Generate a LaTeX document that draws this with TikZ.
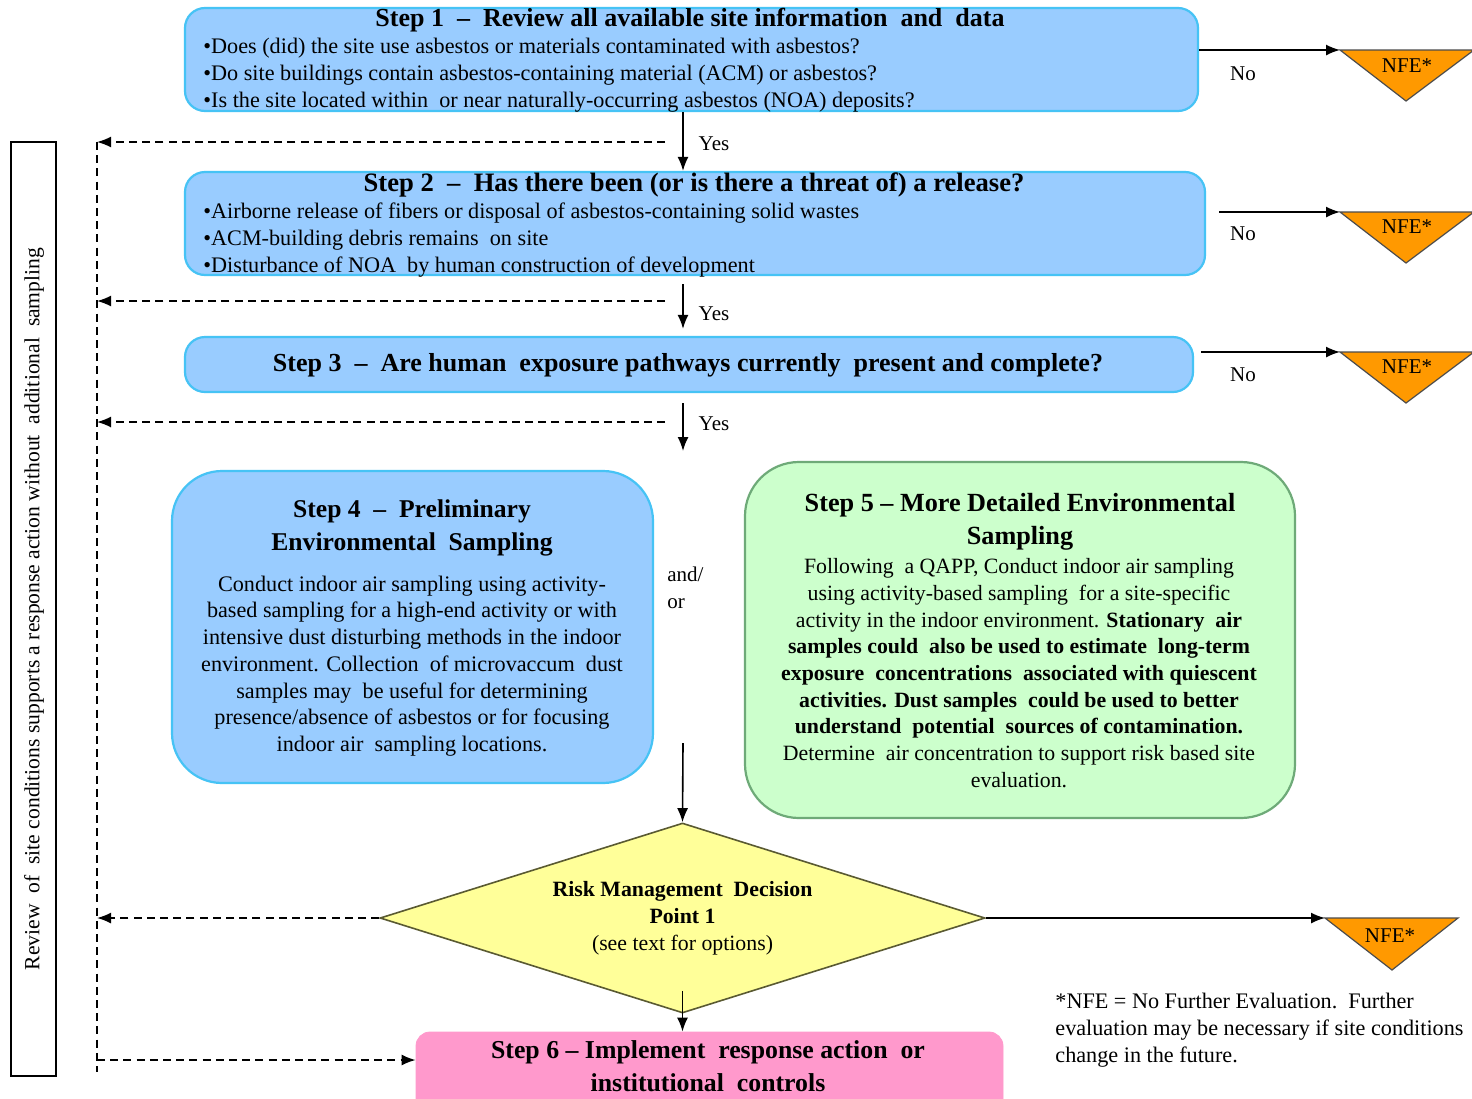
\documentclass[tikz,border=0pt]{standalone}
\usepackage{fontspec}
\setmainfont{Liberation Serif}
\usetikzlibrary{arrows.meta,shapes.geometric}
\definecolor{bluefill}{RGB}{153,204,255}
\definecolor{blueline}{RGB}{70,195,245}
\definecolor{greenfill}{RGB}{204,255,204}
\definecolor{greenline}{RGB}{110,170,120}
\definecolor{pinkfill}{RGB}{255,153,204}
\definecolor{yellowfill}{RGB}{255,255,153}
\definecolor{yellowline}{RGB}{90,90,50}
\definecolor{orangefill}{RGB}{255,153,0}
\begin{document}
\begin{tikzpicture}[x=0.5pt,y=-0.5pt,
  stepbox/.style={draw=blueline, fill=bluefill, line width=1.1pt, rounded corners=10pt, inner sep=0pt},
  title/.style={font=\fontsize{13}{16.8}\selectfont\bfseries, inner sep=0pt, align=center},
  body/.style={font=\fontsize{11.1}{13.5}\selectfont, inner sep=0pt},
  lbl/.style={font=\fontsize{10.5}{12}\selectfont, inner sep=0pt},
  arr/.style={-{Latex[length=7pt,width=5.5pt]}, line width=0.8pt},
  dashln/.style={dash pattern=on 4pt off 2.6pt, line width=0.8pt},
  dasharr/.style={dashln, -{Latex[length=7pt,width=5.5pt]}},
  nfe/.style={draw=black!70, fill=orangefill, line width=0.6pt, line join=miter}
]
\useasboundingbox (0,0) rectangle (1472,1098);
\clip (0,0) rectangle (1472,1098);
\fill[white] (0,0) rectangle (1472,1098);

% helper coordinates
\coordinate (col) at (683,0);

% ---------- Step 1
\node[stepbox, minimum width=506.5pt, minimum height=51.5pt] (s1) at (691.5,59.5) {};
\node[title] (s1t) at (690,20) {Step 1\ \ –\ \ Review all available site information\ \ and\ \ data};
\node[body, anchor=west, align=left] (s1b) at (203,75) {•Does (did) the site use asbestos or materials contaminated with asbestos?\\
•Do site buildings contain asbestos-containing material (ACM) or asbestos?\\
•Is the site located within\ \ or near naturally-occurring asbestos (NOA) deposits?};

% ---------- Step 2
\node[stepbox, minimum width=510pt, minimum height=51.5pt] (s2) at (695,223.5) {};
\node[title, font=\fontsize{13.3}{16.8}\selectfont\bfseries] (s2t) at (694,185) {Step 2\ \ –\ \ Has there been (or is there a threat\ of) a release?};
\node[body, anchor=west, align=left] (s2b) at (203,240) {•Airborne release of fibers or disposal of asbestos-containing solid wastes\\
•ACM-building debris remains\ \ on site\\
•Disturbance of NOA\ \ by human construction of development};

% ---------- Step 3
\node[stepbox, minimum width=504pt, minimum height=27.5pt] (s3) at (689,364.5) {};
\node[title] (s3t) at (688,365) {Step 3\ \ –\ \ Are human\ \ exposure pathways currently\ \ present and complete?};

% ---------- Step 4
\node[stepbox, rounded corners=25pt, minimum width=240.5pt, minimum height=156pt] (s4) at (412.5,627) {};
\node[title, font=\fontsize{12.8}{16.8}\selectfont\bfseries] (s4t) at (412,528) {Step 4\ \ –\ \ Preliminary\\Environmental\ \ Sampling};
\node[body, align=center, font=\fontsize{11.1}{13.35}\selectfont] (s4b) at (412,666) {Conduct indoor air sampling using activity-\\
based sampling for a high-end activity or with\\
intensive dust disturbing methods in the indoor\\
environment. Collection\ \ of microvaccum\ \ dust\\
samples may\ \ be useful for determining\\
presence/absence of asbestos or for focusing\\
indoor air\ \ sampling locations.};

% and/or
\node[lbl, anchor=west, align=left, font=\fontsize{10.5}{13.5}\selectfont] (andor) at (667,588) {and/\\or};

% ---------- Step 5
\node[draw=greenline, fill=greenfill, line width=1.1pt, rounded corners=27pt, inner sep=0pt, minimum width=275pt, minimum height=178pt] (s5) at (1020,640) {};
\node[title, font=\fontsize{13.1}{16.5}\selectfont\bfseries] (s5t) at (1020,522) {Step 5 – More Detailed Environmental\\Sampling};
\node[body, align=center, font=\fontsize{10.9}{13.35}\selectfont] (s5b) at (1019,673) {Following\ \ a QAPP, Conduct indoor air sampling\\
using activity-based sampling\ \ for a site-specific\\
activity in the indoor environment. \textbf{Stationary\ \ air}\\
\textbf{samples could\ \ also be used to estimate\ \ long-term}\\
\textbf{exposure\ \ concentrations\ \ associated with quiescent}\\
\textbf{activities. Dust samples\ \ could\ be used to better}\\
\textbf{understand\ \ potential\ \ sources of contamination.}\\
Determine\ \ air concentration to support risk based site\\
evaluation.};

% ---------- Decision diamond
\node[diamond, draw=yellowline, fill=yellowfill, line width=0.8pt, aspect=3.18, minimum width=302.5pt, minimum height=95pt, inner sep=0pt, align=center, font=\fontsize{10.9}{13.5}\selectfont] (dm) at (682.5,918) {\textbf{Risk Management\ \ Decision}\\\textbf{Point\ 1}\\(see text for options)};

% ---------- Step 6
\node[draw=pinkfill, fill=pinkfill, rounded corners=7pt, inner sep=0pt, minimum width=293.5pt, minimum height=44pt] (s6) at (709.5,1076) {};
\node[title, font=\fontsize{12.9}{16.5}\selectfont\bfseries] (s6t) at (708,1066) {Step 6 – Implement\ \ response action\ \ or\\institutional\ \ controls};

% ---------- NFE triangles
\coordinate (n1) at (1340,50);
\coordinate (n2) at (1340,212);
\coordinate (n3) at (1340,352);
\coordinate (n4) at (1325,918);
\draw[nfe] (n1) -- (1474,50) -- (1406,101) -- cycle;
\draw[nfe] (n2) -- (1474,212) -- (1406,263) -- cycle;
\draw[nfe] (n3) -- (1474,352) -- (1406,403) -- cycle;
\draw[nfe] (n4) -- (1458,918) -- (1392,970) -- cycle;
\node[lbl] (nfe1) at (1407,66) {NFE*};
\node[lbl] (nfe2) at (1407,227) {NFE*};
\node[lbl] (nfe3) at (1407,367) {NFE*};
\node[lbl] (nfe4) at (1390,936) {NFE*};

% No arrows
\draw[arr] (s1.east |- n1) -- (n1);
\draw[arr, shorten <=6.5pt] (s2.east |- n2) -- (n2);
\draw[arr, shorten <=3.5pt] (s3.east |- n3) -- (n3);
\draw[arr] (dm.east) -- (n4);
\node[lbl] (no1) at (1243,74) {No};
\node[lbl] (no2) at (1243,234) {No};
\node[lbl] (no3) at (1243,375) {No};

% Yes arrows
\coordinate (e3) at (683,451);
\coordinate (st4) at (683,743);
\draw[arr] (s1.south -| col) -- (s2.north -| col);
\draw[arr, shorten <=4pt, shorten >=3.5pt] (s2.south -| col) -- (s3.north -| col);
\draw[arr, shorten <=5pt] (s3.south -| col) -- (e3);
\draw[arr] (st4) -- (dm.north);
\draw[arr] ([yshift=11.5pt]dm.south) -- (s6.north -| dm.south);
\node[lbl] (y1) at (714,144) {Yes};
\node[lbl] (y2) at (714,314) {Yes};
\node[lbl] (y3) at (714,424) {Yes};

% Dashed feedback lines
\coordinate (d1) at (665,142);
\coordinate (d2) at (665,301);
\coordinate (d3) at (665,422);
\coordinate (L1) at (97,142);
\coordinate (L2) at (97,301);
\coordinate (L3) at (97,422);
\coordinate (L4) at (97,918);
\coordinate (L6) at (97,1060);
\coordinate (Lbot) at (97,1072);
\draw[dashln] (L1) -- (Lbot);
\draw[dasharr] (d1) -- (L1);
\draw[dasharr] (d2) -- (L2);
\draw[dasharr] (d3) -- (L3);
\draw[dasharr] (dm.west) -- (L4);
\draw[dasharr] (L6) -- (s6.west |- L6);

% Left side box
\node[draw, line width=0.8pt, inner sep=0pt, minimum width=22.5pt, minimum height=467pt] (rev) at (33.5,609) {};
\node[lbl, rotate=90, font=\fontsize{10.8}{12}\selectfont] (revt) at (34,609) {Review\ \ of\ \ site conditions supports a response action without\ \ additional\ \ sampling};

% Footnote
\node[lbl, anchor=west, align=left, font=\fontsize{11.1}{13.4}\selectfont] (foot) at (1055,1030) {*NFE = No Further Evaluation.\ \ Further\\
evaluation may be necessary if site conditions\\
change in the future.};
\end{tikzpicture}
\end{document}
